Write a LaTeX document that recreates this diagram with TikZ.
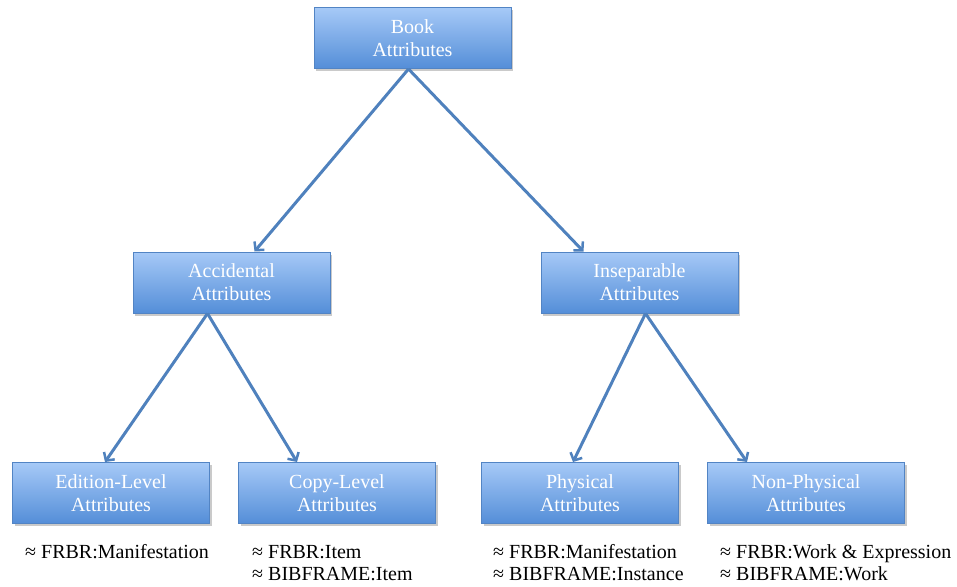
\documentclass[tikz,border=0pt]{standalone}
\usepackage{fontspec}
\setmainfont{Liberation Serif}
\usetikzlibrary{arrows.meta,shadows}
\definecolor{boxtop}{RGB}{166,201,247}
\definecolor{boxbot}{RGB}{84,142,216}
\definecolor{boxline}{RGB}{82,132,196}
\definecolor{arrowc}{RGB}{79,129,189}
\tikzset{
  attrbox/.style={rectangle, minimum width=197pt, minimum height=61pt, inner sep=0pt,
    top color=boxtop, bottom color=boxbot, draw=boxline, line width=1pt,
    drop shadow={shadow xshift=2pt, shadow yshift=-2.5pt, opacity=0.35, fill=black!60},
    text=white, font=\fontsize{20}{23}\selectfont, align=center},
  conn/.style={draw=arrowc, line width=3pt, -{Straight Barb[length=6pt,width=13pt,line width=2.5pt]}},
  lbl/.style={anchor=base west, inner sep=0pt, font=\fontsize{20}{22}\selectfont, text=black}
}
\begin{document}
\begin{tikzpicture}[x=1pt,y=-1pt]
\useasboundingbox (0,0) rectangle (957,586);
\clip (0,0) rectangle (957,586);
\node[attrbox] (book) at (412.5,38) {Book\\Attributes};
\node[attrbox] (acc) at (231.5,282.5) {Accidental\\Attributes};
\node[attrbox] (ins) at (639.5,282.5) {Inseparable\\Attributes};
\node[attrbox] (ed) at (111,493) {Edition-Level\\Attributes};
\node[attrbox] (cp) at (337,493) {Copy-Level\\Attributes};
\node[attrbox] (ph) at (580,493) {Physical\\Attributes};
\node[attrbox] (np) at (806,493) {Non-Physical\\Attributes};
\draw[conn] ([xshift=-4pt]book.south) -- ([xshift=23pt]acc.north);
\draw[conn] ([xshift=-4pt]book.south) -- ([xshift=-56pt]ins.north);
\draw[conn] ([xshift=-24pt]acc.south) -- ([xshift=-6pt]ed.north);
\draw[conn] ([xshift=-24pt]acc.south) -- ([xshift=-40pt]cp.north);
\draw[conn] ([xshift=6pt]ins.south) -- ([xshift=-7pt]ph.north);
\draw[conn] ([xshift=6pt]ins.south) -- ([xshift=-59pt]np.north);
\node[lbl] (l1) at (25,558) {≈ FRBR:Manifestation};
\node[lbl] (l2a) at (252,558) {≈ FRBR:Item};
\node[lbl] (l2b) at (252,580) {≈ BIBFRAME:Item};
\node[lbl] (l3a) at (493,558) {≈ FRBR:Manifestation};
\node[lbl] (l3b) at (493,580) {≈ BIBFRAME:Instance};
\node[lbl] (l4a) at (720,558) {≈ FRBR:Work \& Expression};
\node[lbl] (l4b) at (720,580) {≈ BIBFRAME:Work};
\end{tikzpicture}
\end{document}
